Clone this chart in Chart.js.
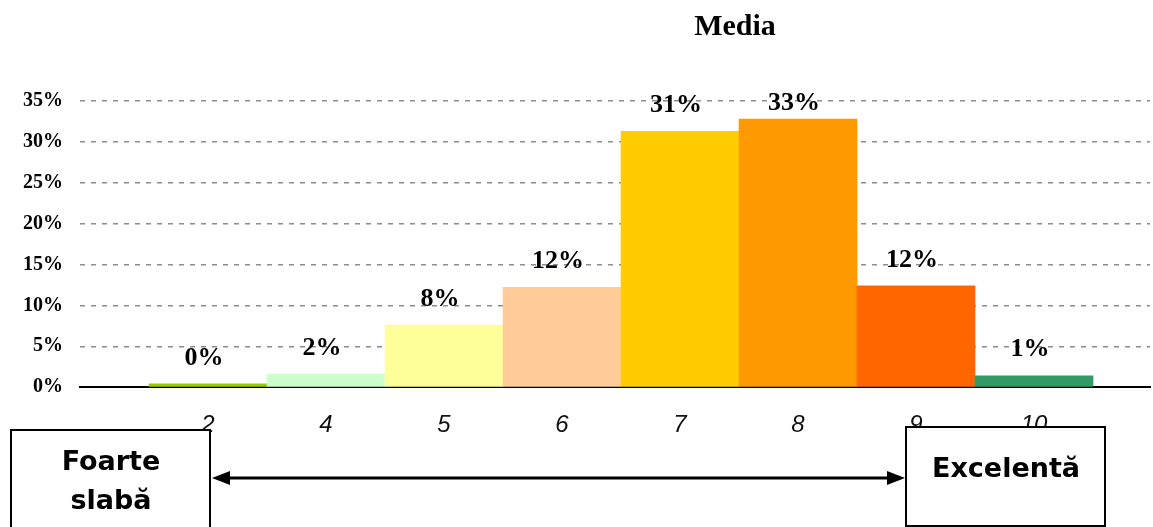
<!DOCTYPE html>
<html>
<head>
<meta charset="utf-8">
<script src="https://cdn.jsdelivr.net/npm/chart.js@4.4.1/dist/chart.umd.min.js"></script>
<style>
  html, body { margin: 0; padding: 0; background: #fff; }
  #wrap { width: 1153px; height: 527px; }
</style>
</head>
<body>
<div id="wrap"><canvas id="media-chart" width="1153" height="527"></canvas></div>
<script>
// date grafic
const categories = ['2', '4', '5', '6', '7', '8', '9', '10'];
const percentages = [0.4, 1.6, 7.6, 12.2, 31.3, 32.8, 12.4, 1.4];
const yTicks = [0, 5, 10, 15, 20, 25, 30, 35];

const chartTitle = 'Media';
const leftNote = ['Foarte', 'slabă'];
const rightNote = ['Excelentă'];

// culori bare
const barColors = ['#99CC00', '#CCFFCC', '#FFFF99', '#FFCC99', '#FFCC00', '#FF9900', '#FF6600', '#339966'];

const serif = '"Liberation Serif", "Times New Roman", serif';
const sans = '"Liberation Sans", Arial, sans-serif';

// etichete procentuale deasupra barelor
const valueLabels = {
    id: 'valueLabels',
    afterDatasetsDraw(chart) {
        const ctx = chart.ctx;
        const meta = chart.getDatasetMeta(0);
        ctx.save();
        ctx.font = 'bold 26px ' + serif;
        ctx.fillStyle = '#000';
        ctx.textAlign = 'center';
        ctx.textBaseline = 'middle';
        meta.data.forEach((bar, i) => {
            const txt = Math.round(percentages[i]) + '%';
            const y = Math.max(bar.y - 26, chart.chartArea.top + 2);
            ctx.fillText(txt, bar.x - 4, y);
        });
        ctx.restore();
    }
};

// titlu + casete cu sageata dubla
const decorations = {
    id: 'decorations',
    afterDraw(chart) {
        const ctx = chart.ctx;
        ctx.save();

        ctx.fillStyle = '#000';
        ctx.font = 'bold 30px ' + serif;
        ctx.textAlign = 'center';
        ctx.textBaseline = 'middle';
        ctx.fillText(chartTitle, 735, 27);

        // casete
        ctx.strokeStyle = '#000';
        ctx.lineWidth = 2;
        ctx.fillStyle = '#fff';
        ctx.fillRect(11, 430, 199, 110);
        ctx.strokeRect(11, 430, 199, 110);
        ctx.fillRect(906, 427, 199, 99);
        ctx.strokeRect(906, 427, 199, 99);

        ctx.fillStyle = '#000';
        ctx.font = 'bold 27px "DejaVu Sans", Verdana, sans-serif';
        ctx.textBaseline = 'alphabetic';
        ctx.fillText(leftNote[0], 111, 470);
        ctx.fillText(leftNote[1], 111, 509);
        ctx.fillText(rightNote[0], 1006, 477);

        // sageata dubla
        const y = 478, x1 = 212, x2 = 905;
        ctx.lineWidth = 3;
        ctx.beginPath();
        ctx.moveTo(x1 + 14, y);
        ctx.lineTo(x2 - 14, y);
        ctx.stroke();
        ctx.beginPath();
        ctx.moveTo(x1, y);
        ctx.lineTo(x1 + 18, y - 7);
        ctx.lineTo(x1 + 18, y + 7);
        ctx.closePath();
        ctx.fill();
        ctx.beginPath();
        ctx.moveTo(x2, y);
        ctx.lineTo(x2 - 18, y - 7);
        ctx.lineTo(x2 - 18, y + 7);
        ctx.closePath();
        ctx.fill();

        ctx.restore();
    }
};

new Chart(document.getElementById('media-chart'), {
    type: 'bar',
    data: {
        datasets: [{
            data: percentages.map((v, i) => ({ x: i, y: v })),
            backgroundColor: barColors,
            borderWidth: 0,
            barPercentage: 1,
            categoryPercentage: 1
        }]
    },
    options: {
        responsive: false,
        animation: false,
        devicePixelRatio: 1,
        layout: { padding: { top: 101, right: 3, bottom: 63, left: 0 } },
        plugins: {
            legend: { display: false },
            title: { display: false },
            tooltip: { enabled: false }
        },
        scales: {
            x: {
                type: 'linear',
                offset: false,
                min: -1.085,
                max: 7.983,
                afterBuildTicks(scale) {
                    scale.ticks = categories.map((c, i) => ({ value: i }));
                },
                grid: { display: false, drawTicks: false, offset: false },
                border: { display: true, color: '#000', width: 2 },
                ticks: {
                    autoSkip: false,
                    maxRotation: 0,
                    minRotation: 0,
                    padding: 24,
                    color: '#111',
                    font: { family: sans, size: 24, style: 'italic' },
                    callback: (v) => categories[v]
                }
            },
            y: {
                min: 0,
                max: 35,
                afterBuildTicks(scale) {
                    scale.ticks = yTicks.map(v => ({ value: v }));
                },
                afterFit(scale) { scale.width = 80; },
                grid: { color: '#8c8c8c', lineWidth: 1.5, drawTicks: false },
                border: { display: false, dash: [5, 6] },
                ticks: {
                    padding: 17,
                    color: '#000',
                    font: { family: serif, size: 20, weight: 'bold' },
                    callback: (v) => v + '%'
                }
            }
        }
    },
    plugins: [valueLabels, decorations]
});
</script>
</body>
</html>
